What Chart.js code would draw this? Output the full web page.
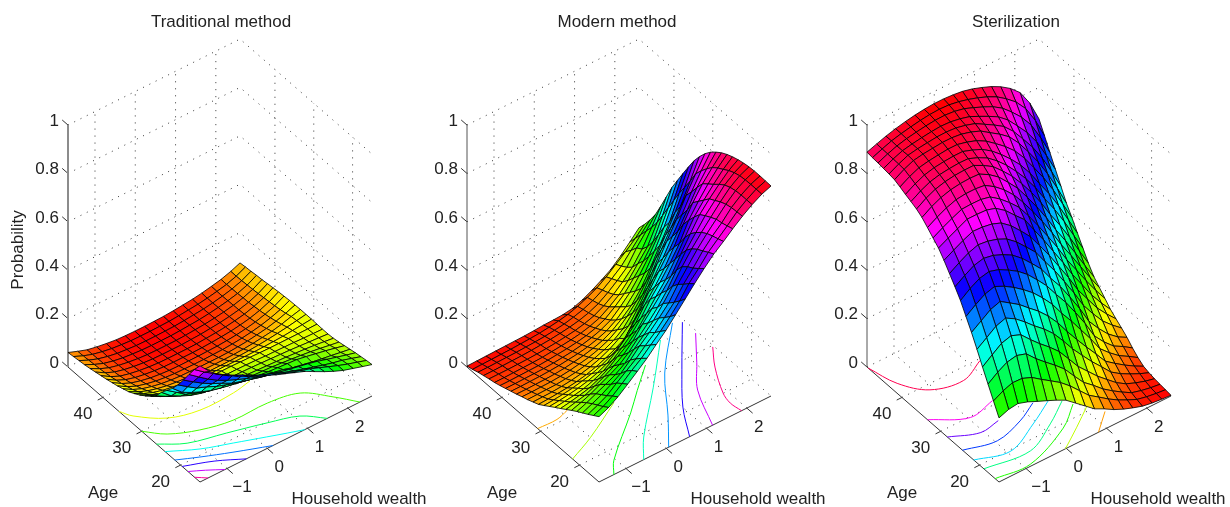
<!DOCTYPE html>
<html>
<head>
<meta charset="utf-8">
<title>Contraceptive method probabilities</title>
<script src="https://cdn.jsdelivr.net/npm/chart.js@4"></script>
<style>
  html, body { margin: 0; padding: 0; background: #fff; overflow: hidden; }
  #page { position: relative; width: 1230px; height: 507px; }
  canvas { position: absolute; top: 0; }
</style>
</head>
<body>
<div id="page">
  <canvas id="panel0" width="442" height="507" style="left:0"></canvas>
  <canvas id="panel1" width="420" height="507" style="left:407px"></canvas>
  <canvas id="panel2" width="428" height="507" style="left:802px"></canvas>
</div>
<script>
const wealth = [-1.67,-1.43,-1.2,-.96,-.72,-.48,-.25,-.01,.23,.47,.7,.94,1.18,1.42,1.65,1.89,2.13,2.37,2.6];
const ages = [15,16.42,17.83,19.25,20.67,22.08,23.5,24.92,26.33,27.75,29.17,30.58,32,33.42,34.83,36.25,37.67,39.08,40.5,41.92,43.33,44.75,46.17,47.58,49];

const wealthTicks = [-1, 0, 1, 2];
const wealthTickLabels = ['\u22121', '0', '1', '2'];
const ageTicks = [20, 30, 40];
const probTicks = [0, 0.2, 0.4, 0.6, 0.8, 1];
const probTickLabels = ['0', '0.2', '0.4', '0.6', '0.8', '1'];

// one row per age, one column per wealth value
const traditional = [
[.480,.437,.405,.380,.358,.337,.320,.302,.285,.270,.255,.240,.219,.199,.181,.165,.153,.141,.130],
[.445,.415,.390,.365,.342,.323,.300,.285,.268,.250,.236,.222,.210,.195,.180,.165,.151,.139,.127],
[.405,.375,.347,.322,.302,.285,.270,.255,.242,.230,.216,.203,.190,.178,.167,.156,.147,.135,.123],
[.362,.335,.310,.288,.270,.250,.238,.226,.215,.205,.197,.188,.180,.172,.163,.151,.140,.129,.119],
[.322,.295,.270,.255,.237,.224,.212,.200,.192,.185,.176,.168,.156,.148,.140,.133,.127,.120,.114],
[.288,.252,.232,.215,.200,.190,.182,.174,.168,.163,.159,.156,.153,.150,.143,.135,.127,.118,.109],
[.260,.232,.205,.190,.175,.167,.158,.150,.147,.144,.142,.140,.136,.132,.128,.123,.117,.110,.104],
[.232,.198,.178,.160,.148,.140,.134,.131,.129,.128,.126,.124,.122,.120,.117,.114,.110,.105,.100],
[.198,.176,.158,.144,.134,.128,.124,.121,.120,.119,.118,.116,.114,.112,.110,.107,.104,.101,.098],
[.176,.155,.138,.125,.118,.113,.111,.110,.109,.109,.108,.107,.105,.104,.103,.102,.100,.099,.098],
[.158,.140,.122,.112,.107,.105,.103,.102,.102,.102,.101,.100,.099,.098,.098,.098,.098,.098,.099],
[.142,.122,.106,.096,.091,.088,.086,.085,.084,.084,.083,.083,.083,.084,.086,.088,.092,.096,.100],
[.128,.108,.093,.082,.075,.070,.067,.066,.065,.065,.065,.066,.068,.071,.075,.080,.086,.093,.100],
[.116,.095,.080,.069,.061,.056,.053,.052,.051,.051,.051,.052,.054,.058,.063,.069,.078,.090,.100],
[.108,.085,.069,.058,.050,.045,.042,.041,.040,.040,.040,.041,.044,.048,.054,.061,.071,.084,.099],
[.100,.077,.060,.049,.041,.036,.033,.032,.031,.031,.032,.033,.036,.040,.046,.054,.065,.079,.098],
[.094,.070,.053,.042,.034,.029,.026,.025,.025,.025,.026,.027,.030,.034,.040,.048,.060,.075,.096],
[.088,.064,.047,.036,.029,.024,.021,.020,.020,.020,.021,.023,.026,.030,.036,.044,.056,.072,.094],
[.083,.059,.042,.032,.025,.020,.017,.016,.016,.016,.017,.020,.023,.027,.033,.041,.053,.069,.091],
[.078,.055,.039,.029,.022,.017,.014,.013,.013,.013,.015,.017,.021,.025,.031,.039,.050,.066,.088],
[.073,.052,.037,.027,.020,.015,.012,.011,.011,.011,.013,.016,.019,.024,.030,.038,.049,.064,.085],
[.069,.050,.035,.025,.018,.014,.011,.010,.010,.010,.012,.015,.018,.023,.029,.037,.047,.062,.083],
[.066,.048,.034,.024,.017,.013,.010,.009,.009,.010,.011,.014,.018,.022,.028,.036,.046,.060,.080],
[.063,.046,.033,.024,.017,.013,.010,.009,.009,.010,.011,.014,.018,.022,.028,.036,.045,.059,.078],
[.060,.045,.032,.024,.018,.013,.011,.010,.010,.011,.012,.015,.019,.023,.029,.037,.046,.059,.075]
];

const modern = [
[.270,.288,.313,.345,.378,.412,.450,.488,.533,.578,.622,.665,.705,.737,.770,.802,.830,.853,.868],
[.255,.272,.296,.328,.362,.392,.428,.464,.505,.550,.603,.645,.692,.728,.762,.800,.830,.854,.869],
[.240,.258,.278,.310,.340,.370,.405,.440,.482,.525,.580,.627,.678,.720,.755,.798,.830,.854,.870],
[.226,.244,.262,.285,.310,.346,.385,.420,.460,.502,.560,.613,.665,.710,.750,.792,.828,.853,.870],
[.212,.228,.246,.265,.285,.312,.352,.390,.430,.480,.532,.593,.647,.695,.738,.782,.822,.850,.868],
[.197,.210,.225,.245,.265,.287,.318,.360,.400,.445,.495,.560,.622,.675,.725,.768,.812,.843,.864],
[.181,.191,.200,.218,.238,.262,.288,.325,.375,.420,.465,.515,.585,.650,.710,.755,.795,.832,.858],
[.165,.172,.180,.190,.208,.232,.262,.290,.330,.380,.430,.480,.545,.615,.680,.730,.775,.817,.850],
[.150,.155,.160,.168,.182,.200,.225,.258,.295,.342,.400,.450,.507,.570,.647,.705,.757,.803,.840],
[.134,.138,.143,.150,.160,.174,.192,.224,.260,.300,.358,.410,.467,.535,.610,.680,.738,.785,.827],
[.118,.121,.125,.131,.140,.151,.165,.185,.208,.256,.308,.372,.435,.495,.560,.630,.703,.760,.810],
[.103,.105,.108,.112,.118,.127,.139,.155,.174,.196,.252,.315,.385,.450,.520,.590,.665,.732,.790],
[.093,.094,.095,.098,.103,.110,.120,.134,.153,.178,.210,.265,.330,.410,.480,.550,.630,.700,.764],
[.083,.084,.085,.086,.090,.096,.104,.115,.130,.150,.178,.224,.277,.350,.425,.495,.565,.650,.732],
[.075,.075,.076,.077,.080,.085,.092,.100,.113,.130,.155,.190,.235,.295,.370,.445,.520,.605,.695],
[.066,.066,.067,.068,.070,.074,.080,.087,.097,.110,.130,.160,.195,.245,.310,.385,.460,.560,.650],
[.058,.058,.059,.060,.062,.065,.070,.075,.083,.095,.110,.135,.170,.215,.270,.340,.420,.510,.603],
[.050,.050,.051,.052,.053,.056,.060,.065,.072,.082,.095,.115,.150,.190,.240,.300,.370,.460,.555],
[.042,.042,.043,.044,.045,.048,.052,.056,.062,.070,.082,.100,.130,.165,.210,.260,.320,.410,.506],
[.035,.035,.036,.037,.038,.040,.044,.048,.053,.060,.070,.085,.110,.140,.180,.230,.280,.360,.448],
[.030,.030,.030,.031,.032,.034,.037,.041,.046,.052,.061,.074,.095,.122,.155,.195,.250,.320,.390],
[.024,.024,.025,.026,.027,.029,.032,.035,.040,.046,.054,.066,.084,.110,.140,.175,.235,.285,.335],
[.018,.018,.019,.020,.021,.023,.025,.028,.033,.039,.048,.060,.077,.100,.128,.160,.205,.250,.292],
[.010,.011,.012,.013,.014,.016,.018,.021,.026,.032,.040,.053,.070,.090,.116,.148,.180,.215,.254],
[.004,.005,.006,.007,.008,.009,.010,.012,.015,.016,.018,.024,.038,.058,.080,.105,.140,.180,.220]
];

const sterilization = [
[.265,.280,.285,.272,.254,.237,.220,.200,.168,.136,.105,.085,.062,.044,.030,.017,.010,.006,.003],
[.315,.337,.351,.349,.333,.305,.280,.253,.219,.179,.141,.114,.086,.062,.043,.025,.016,.010,.006],
[.365,.394,.416,.424,.411,.371,.338,.305,.269,.220,.175,.143,.108,.080,.056,.033,.022,.014,.009],
[.416,.446,.474,.486,.470,.430,.394,.360,.322,.271,.221,.181,.141,.107,.075,.050,.034,.021,.012],
[.469,.497,.525,.539,.516,.483,.448,.415,.376,.326,.274,.227,.181,.140,.099,.072,.051,.032,.017],
[.519,.547,.574,.588,.562,.535,.502,.469,.429,.381,.326,.273,.222,.173,.124,.095,.068,.044,.024],
[.565,.594,.618,.630,.611,.586,.558,.525,.484,.438,.382,.330,.273,.216,.156,.119,.087,.064,.040],
[.611,.641,.663,.672,.660,.638,.614,.581,.539,.494,.440,.387,.325,.260,.189,.144,.107,.085,.060],
[.648,.675,.697,.707,.699,.682,.661,.628,.587,.544,.487,.433,.369,.302,.230,.180,.137,.105,.084],
[.683,.708,.729,.743,.738,.726,.708,.676,.635,.593,.535,.478,.413,.346,.276,.221,.171,.134,.103],
[.718,.740,.760,.778,.776,.769,.754,.723,.682,.638,.582,.522,.456,.390,.320,.262,.205,.160,.121],
[.749,.770,.789,.809,.809,.807,.795,.766,.726,.688,.627,.565,.498,.432,.364,.302,.239,.186,.140],
[.771,.793,.812,.830,.832,.831,.822,.794,.759,.719,.665,.604,.540,.474,.405,.342,.278,.218,.165],
[.794,.817,.836,.850,.855,.855,.850,.825,.792,.751,.702,.644,.582,.516,.447,.383,.316,.250,.190],
[.816,.841,.859,.871,.877,.879,.877,.855,.825,.783,.740,.683,.622,.557,.489,.424,.354,.282,.215],
[.831,.856,.874,.885,.891,.893,.893,.873,.848,.810,.770,.719,.663,.600,.532,.468,.398,.322,.251],
[.842,.866,.884,.894,.899,.902,.901,.885,.864,.832,.795,.750,.700,.642,.577,.514,.444,.366,.294],
[.852,.876,.893,.903,.908,.911,.911,.897,.880,.853,.820,.781,.737,.683,.621,.559,.489,.411,.336],
[.863,.886,.903,.911,.916,.920,.920,.910,.896,.874,.845,.813,.775,.725,.667,.605,.535,.456,.380],
[.873,.896,.913,.920,.924,.928,.928,.923,.912,.896,.870,.844,.813,.767,.712,.651,.581,.502,.420],
[.877,.898,.915,.922,.927,.931,.932,.929,.920,.907,.885,.862,.836,.796,.746,.692,.627,.549,.470],
[.880,.899,.914,.922,.928,.933,.936,.934,.927,.916,.898,.878,.856,.823,.780,.733,.674,.598,.520],
[.883,.900,.914,.924,.931,.937,.941,.942,.938,.929,.914,.897,.878,.852,.817,.776,.724,.650,.570],
[.885,.901,.915,.925,.933,.940,.945,.947,.945,.938,.928,.915,.899,.879,.852,.819,.772,.703,.620],
[.888,.902,.915,.926,.935,.942,.947,.950,.950,.947,.942,.932,.918,.902,.882,.855,.818,.755,.670]
];

// floor contour lines: [level, [[wealth, age], ...]]
const traditionalContours = [
  [.1, [[-1.67,35.9],[-1.53,33.7],[-1.03,30.1],[-.37,28.5],[.47,28.6],[.95,29.3]]],
  [.15, [[-1.67,30],[-1.32,27.1],[-.73,24.8],[-.03,23.5],[.82,23.5],[1.52,22.3],[1.97,18.5],[2.3,15]]],
  [.2, [[-1.67,26.2],[-1.17,23.5],[-.36,21.7],[.46,19.8],[1.1,18],[1.49,15]]],
  [.25, [[-1.67,24],[-1.07,21.2],[-.44,19.2],[.2,17.2],[.59,16],[.93,15]]],
  [.3, [[-1.67,21.5],[-1.22,19.7],[-.61,17.5],[.14,15]]],
  [.35, [[-1.67,19.6],[-1.07,17.6],[-.52,15]]],
  [.4, [[-1.67,18.1],[-1.37,16.7],[-1.05,15]]],
  [.45, [[-1.67,16.4],[-1.47,15]]]
];
const modernContours = [
  [.1, [[-1.67,30.8],[-1.2,30.7],[-.86,31.5]]],
  [.2, [[-1.67,21.8],[-.99,24.2],[0,28.5]]],
  [.3, [[-1.3,15],[-1.04,17.7],[.08,25],[.59,28.6],[1.18,32.6]]],
  [.4, [[-.56,15],[-.15,19.25],[.89,27.6],[1.87,35.9]]],
  [.5, [[.06,15],[.63,21.1],[1.34,29.3],[2.37,38]]],
  [.6, [[.58,15],[1.01,21.2],[1.67,28.3],[2.54,37.2]]],
  [.7, [[1.15,15],[1.55,23],[2.03,28.2],[2.55,33.9]]],
  [.8, [[1.87,15],[1.83,17.5],[1.9,20.1],[2.24,25.7],[2.57,29.7]]]
];
const sterilizationContours = [
  [.1, [[.8,15],[1.28,18.3]]],
  [.2, [[-.02,15],[.55,18],[1.09,21]]],
  [.3, [[-1.67,16],[-.85,15.4],[.32,19.1],[.91,22.7]]],
  [.4, [[-1.67,18.9],[-.61,17.9],[.19,21.1],[.79,24.3]]],
  [.5, [[-1.67,21.5],[-.92,19.7],[-.08,22.7],[.57,25.6]]],
  [.6, [[-1.67,24.4],[-.95,22.9],[-.23,24.5],[.3,26.7]]],
  [.7, [[-1.67,28.3],[-1.06,26],[-.57,26.6]]],
  [.8, [[-1.67,33.4],[-.95,29.8],[-.3,30.9]]],
  [.9, [[-1.67,48.7],[-1.49,43.1],[-1.09,38.8],[-.39,37.4],[.23,39.6]]]
];

const panels = [
  { canvas: 'panel0', left: 0, title: 'Traditional method', probs: traditional, contours: traditionalContours, clim: [.009, .5], yLabel: 'Probability', axisColor: '#8c8c8c', axisWidth: 2 },
  { canvas: 'panel1', left: 407, title: 'Modern method', probs: modern, contours: modernContours, clim: [.003, .876], axisColor: '#555', axisWidth: 1 },
  { canvas: 'panel2', left: 802, title: 'Sterilization', probs: sterilization, contours: sterilizationContours, clim: [.003, .95], axisColor: '#555', axisWidth: 1 }
];
const frontX = [200, 599, 999];

const PAGE_H = 507;
const wMin = wealth[0], wMax = wealth[wealth.length - 1];
const aMin = ages[0], aMax = ages[ages.length - 1];

function hsvColor(p, clim) {
  const t = Math.min(1, Math.max(0, (p - clim[0]) / (clim[1] - clim[0])));
  return 'hsl(' + (t * 360).toFixed(1) + ',100%,50%)';
}

// fixed oblique view: wealth runs up-right, age up-left, probability straight up
function makeProjector(index) {
  const fx = frontX[index] - panels[index].left;
  return function (w, age, p) {
    const a = (w - wMin) / (wMax - wMin);
    const b = (age - aMin) / (aMax - aMin);
    return { x: fx + a * 172 - b * 132, y: PAGE_H - (482 - a * 86 - b * 115 - p * 242) };
  };
}

function lineSet(data, color, width, dash, order, tension) {
  return { data: data, showLine: true, borderColor: color, borderWidth: width, borderDash: dash || [], pointRadius: 0, fill: false, tension: tension || 0, order: order, clip: false };
}

function buildDatasets(index) {
  const panel = panels[index];
  const proj = makeProjector(index);
  const sets = [];

  // surface cells, nearest corner first so it ends up on top
  for (let i = 0; i < wealth.length - 1; i++) {
    for (let j = 0; j < ages.length - 1; j++) {
      const z = panel.probs;
      const p00 = z[j][i], p10 = z[j][i + 1], p11 = z[j + 1][i + 1], p01 = z[j + 1][i];
      sets.push({
        data: [proj(wealth[i], ages[j], p00), proj(wealth[i + 1], ages[j], p10), proj(wealth[i + 1], ages[j + 1], p11), proj(wealth[i], ages[j + 1], p01), proj(wealth[i], ages[j], p00)],
        showLine: true,
        fill: 'shape',
        backgroundColor: hsvColor((p00 + p10 + p11 + p01) / 4, panel.clim),
        borderColor: 'rgba(0,0,0,0.8)',
        borderWidth: 1,
        pointRadius: 0,
        tension: 0,
        order: 1,
        clip: false
      });
    }
  }

  // floor contours
  panel.contours.forEach(c => {
    const pts = c[1].map(p => proj(p[0], p[1], 0));
    sets.push(lineSet(pts, hsvColor(c[0], panel.clim), 1, null, 2, 0.35));
  });

  // axis lines and tick marks
  const axis = (pts, color, width) => sets.push(lineSet(pts, color, width, null, 3));
  axis([proj(wMin, aMax, 0), proj(wMin, aMax, 1)], panel.axisColor, panel.axisWidth);
  axis([proj(wMin, aMax, 0), proj(wMin, aMin, 0), proj(wMax, aMin, 0)], '#333', 1);
  probTicks.forEach(t => axis([proj(wMin, aMax, t), proj(wMin, aMax + 1.5, t)], '#333', 1));
  ageTicks.forEach(t => axis([proj(wMin, t, 0), proj(wMin - 0.13, t, 0)], '#333', 1));
  wealthTicks.forEach(t => axis([proj(t, aMin, 0), proj(t, aMin - 1.5, 0)], '#333', 1));

  // dotted box grid
  const dotted = pts => sets.push(lineSet(pts, '#333', 1, [1, 6], 4));
  probTicks.forEach(t => {
    dotted([proj(wMin, aMax, t), proj(wMax, aMax, t), proj(wMax, aMin, t)]);
  });
  wealthTicks.forEach(t => {
    dotted([proj(t, aMin, 0), proj(t, aMax, 0), proj(t, aMax, 1)]);
  });
  ageTicks.forEach(t => {
    dotted([proj(wMin, t, 0), proj(wMax, t, 0), proj(wMax, t, 1)]);
  });
  return sets;
}

const FONT = '17px "Liberation Sans", Arial, sans-serif';

const axisText = {
  id: 'axisText',
  afterDraw(chart, args, opts) {
    const proj = opts.proj;
    const sx = chart.scales.x, sy = chart.scales.y;
    const ctx = chart.ctx;
    const put = (pt, dx, dy, text, align) => {
      ctx.textAlign = align || 'center';
      ctx.fillText(text, sx.getPixelForValue(pt.x) + dx, sy.getPixelForValue(pt.y) + dy);
    };
    ctx.save();
    ctx.font = FONT;
    ctx.fillStyle = '#222';
    ctx.textBaseline = 'middle';
    probTicks.forEach((t, i) => put(proj(wMin, aMax, t), -9, -4, probTickLabels[i], 'right'));
    ageTicks.forEach(t => put(proj(wMin, t, 0), -20, 17, String(t)));
    wealthTicks.forEach((t, i) => put(proj(t, aMin, 0), t < 0 ? 15 : 12, 19, wealthTickLabels[i]));
    put(proj(wMin, aMin, 0), -97, 11, 'Age');
    put(proj(wMax, aMin, 0), -13, 103, 'Household wealth');
    if (opts.yLabel) {
      ctx.translate(18, 250);
      ctx.rotate(-Math.PI / 2);
      ctx.fillText(opts.yLabel, 0, 0);
    }
    ctx.restore();
  }
};

panels.forEach((panel, index) => {
  const canvas = document.getElementById(panel.canvas);
  new Chart(canvas, {
    type: 'scatter',
    data: { datasets: buildDatasets(index) },
    plugins: [axisText],
    options: {
      responsive: false,
      animation: false,
      parsing: false,
      normalized: true,
      events: [],
      layout: { padding: 0 },
      scales: {
        x: { type: 'linear', display: false, min: 0, max: canvas.width },
        y: { type: 'linear', display: false, min: 0, max: PAGE_H - 40 }
      },
      plugins: {
        legend: { display: false },
        tooltip: { enabled: false },
        title: {
          display: true,
          text: panel.title,
          color: '#222',
          font: { family: '"Liberation Sans", Arial, sans-serif', size: 17, weight: 'normal', lineHeight: 1.18 },
          padding: { top: 12, bottom: 8 }
        },
        axisText: { proj: makeProjector(index), yLabel: panel.yLabel }
      }
    }
  });
});
</script>
</body>
</html>
